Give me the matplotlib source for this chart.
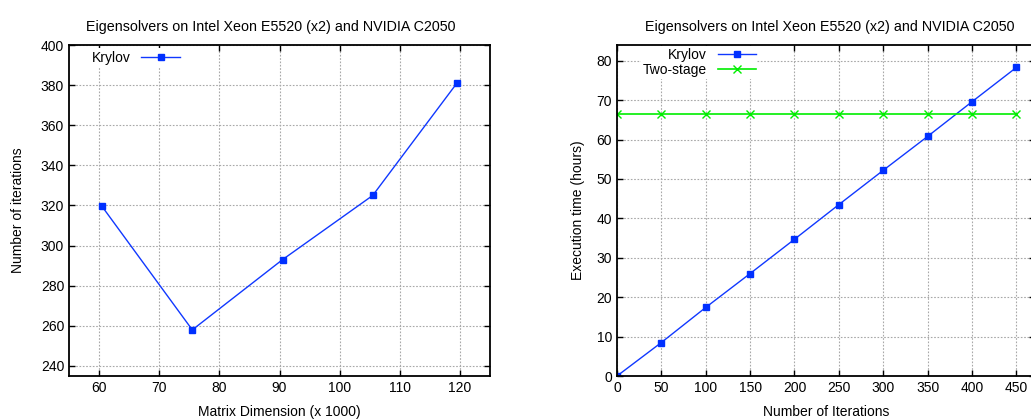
import matplotlib
matplotlib.use("Agg")
import matplotlib.pyplot as plt

plt.rcParams['font.family'] = ['Liberation Sans', 'DejaVu Sans']
plt.rcParams['font.size'] = 10

# left panel: Krylov iterations vs matrix dimension
dim = [60.5, 75.5, 90.5, 105.5, 119.5]
iters = [319.5, 258, 293, 325, 381]

# right panel: execution time vs number of iterations
n_iter = [0, 50, 100, 150, 200, 250, 300, 350, 400, 450]
krylov_time = [0, 8.5, 17.4, 26.0, 34.7, 43.5, 52.2, 60.8, 69.6, 78.3]
twostage_time = [66.4] * len(n_iter)

title = 'Eigensolvers on Intel Xeon E5520 (x2) and NVIDIA C2050'
blue = '#1038ff'
green = '#00ee00'

fig = plt.figure(figsize=(10.31, 4.2), dpi=100)
ax1 = fig.add_axes([69/1031, 44/420, 421/1031, 331/420])
ax2 = fig.add_axes([617/1031, 44/420, 418/1031, 331/420])


def style(ax):
    ax.grid(True, color='#a8a8a8', linestyle=(0, (1.5, 1.5)), linewidth=0.8)
    ax.tick_params(direction='in', top=True, right=True, length=4, width=1,
                   labelsize=10)
    for s in ax.spines.values():
        s.set_linewidth(1.3)
    ax.set_axisbelow(True)


ax1.plot(dim, iters, color=blue, linewidth=1, marker='s', markersize=5,
         markerfacecolor='#0030ff', markeredgecolor='#0030ff', label='Krylov')
ax1.set_xlim(55, 125)
ax1.set_ylim(235, 400)
ax1.set_xticks(range(60, 121, 10))
ax1.set_yticks(range(240, 401, 20))
ax1.set_xlabel('Matrix Dimension (x 1000)', labelpad=7)
ax1.set_ylabel('Number of iterations', labelpad=11)
ax1.set_title(title, fontsize=10.3, pad=10, x=0.479)
style(ax1)
ax1.legend(loc='upper left', markerfirst=False, frameon=True,
           fancybox=False, edgecolor='none', framealpha=1,
           borderpad=0.2, handlelength=2.8, borderaxespad=0.2,
           bbox_to_anchor=(0.04, 1.0))

ax2.plot(n_iter, krylov_time, color=blue, linewidth=1, marker='s',
         markersize=5, markerfacecolor='#0030ff', markeredgecolor='#0030ff',
         label='Krylov')
ax2.plot(n_iter, twostage_time, color=green, linewidth=1.2, marker='x',
         markersize=6, label='Two-stage')
ax2.set_xlim(0, 471)
ax2.set_ylim(0, 84)
ax2.set_xticks(range(0, 451, 50))
ax2.set_yticks(range(0, 81, 10))
ax2.set_xlabel('Number of Iterations', labelpad=7)
ax2.set_ylabel('Execution time (hours)', labelpad=8)
ax2.set_title(title, fontsize=10.3, pad=10, x=0.51)
style(ax2)
ax2.legend(loc='upper left', markerfirst=False, frameon=True,
           fancybox=False, edgecolor='none', framealpha=1,
           borderpad=0.1, handlelength=2.7, borderaxespad=0.1,
           labelspacing=0.1, bbox_to_anchor=(0.055, 1.0))

fig.savefig('out.png', dpi=100)
